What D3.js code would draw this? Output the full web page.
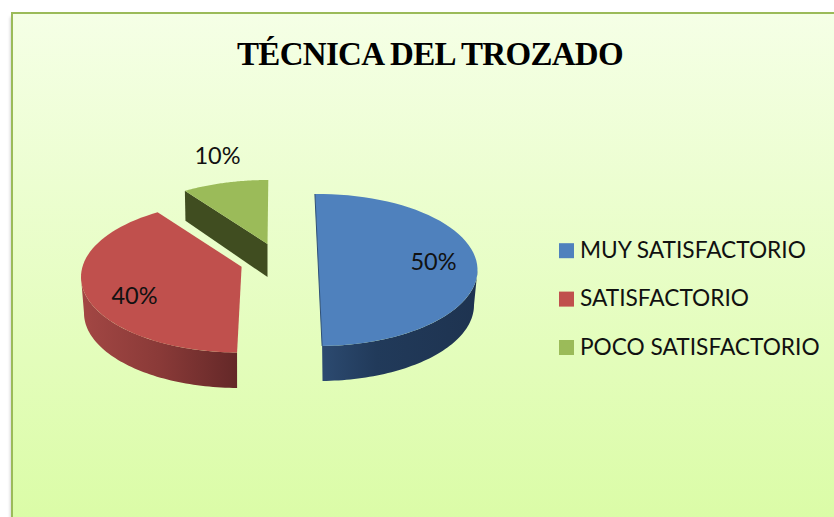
<!DOCTYPE html>
<html><head><meta charset="utf-8">
<script src="https://cdn.jsdelivr.net/npm/d3@7"></script>
<style>html,body{margin:0;padding:0;background:#fff}svg{display:block}</style>
</head><body><svg id="c" width="834" height="517"></svg>
<script>
const categories=["MUY SATISFACTORIO","SATISFACTORIO","POCO SATISFACTORIO"];
const values=[50,40,10];
const labels=["50%","40%","10%"];
const colors=["#4f81bd","#c0504d","#9bbb59"];
const titleText="TÉCNICA DEL TROZADO";
const deg=Math.PI/180;
const svg=d3.select("#c");
const defs=svg.append("defs");
const bg=defs.append("linearGradient").attr("id","bg").attr("x1",0).attr("y1",0).attr("x2",0).attr("y2",1);
bg.append("stop").attr("offset",0).attr("stop-color","#f5ffe6");
bg.append("stop").attr("offset",1).attr("stop-color","#dafca5");
defs.append("filter").attr("id","blur").attr("x","-5%").attr("y","-5%").attr("width","110%").attr("height","110%")
  .append("feGaussianBlur").attr("stdDeviation",1.6);
svg.append("rect").attr("x",10).attr("y",17).attr("width",840).attr("height",520).attr("fill","#999").attr("opacity",.4).attr("filter","url(#blur)");
svg.append("rect").attr("x",12).attr("y",13).attr("width",840).attr("height",520)
 .attr("fill","url(#bg)").attr("stroke","#9bbb59").attr("stroke-width",2);
svg.append("text").attr("x",430).attr("y",65).attr("text-anchor","middle")
 .attr("font-family","Liberation Serif").attr("font-weight","bold").attr("font-size",33).attr("letter-spacing",-0.7).text(titleText);

const arcs=d3.pie().sort(null).value(d=>d).startAngle(-1.3*deg).endAngle(358.7*deg)(values);
// perspective geometry of each exploded slice
const geom=[
 {c:[318.5,270],rx:159,ry:76,b:[319,305],brx:155,bry:76,apex:[318.5,270],shift:[0,0]},
 {c:[239,277],rx:158,ry:75.5,b:[239,313],brx:155,bry:75,apex:[241.6,266.7],shift:[2*deg,6.3*deg]},
 {c:[268.3,256],rx:162,ry:76,b:[268,286],brx:160,bry:76,apex:[267.5,244],shift:[6.3*deg,1.3*deg]}
];
const grads=[
 [["#2c4a70",0],["#213a5a",.35],["#1e3350",1]],
 [["#a34744",0],["#8a3a38",.5],["#642828",1]],
 [["#404d20",0],["#404d20",1]]
];
const pt=(g,a)=>[g.c[0]+Math.sin(a)*g.rx,g.c[1]-Math.cos(a)*g.ry];
const ptB=(g,a)=>[g.b[0]+Math.sin(a)*g.brx,g.b[1]-Math.cos(a)*g.bry];
const line=d3.line();
const ramp=(a0,a1)=>d3.range(61).map(k=>a0+(a1-a0)*k/60);
const sliceOrder=[2,0,1];
sliceOrder.forEach(i=>{
  const d=arcs[i],g=geom[i],s=svg.append("g");
  const a0=d.startAngle+g.shift[0],a1=d.endAngle+g.shift[1];
  const id="wall"+i;
  const lg=defs.append("linearGradient").attr("id",id).attr("gradientUnits","userSpaceOnUse");
  const w0=Math.max(a0,90*deg),w1=Math.min(a1,270*deg);
  if(w1>w0){
    const xs=[pt(g,w0)[0],pt(g,w1)[0]];
    lg.attr("x1",d3.min(xs)).attr("x2",d3.max(xs)).attr("y1",0).attr("y2",0);
    grads[i].forEach(st=>lg.append("stop").attr("offset",st[1]).attr("stop-color",st[0]));
    const top=ramp(w0,w1).map(a=>pt(g,a)),bot=ramp(w1,w0).map(a=>ptB(g,a));
    s.append("path").attr("d",line(top.concat(bot))+"Z").attr("fill","url(#"+id+")");
  }
  if(i===2){
    const p=pt(g,a0);
    s.append("path").attr("d",line([p,g.apex,[g.apex[0],g.apex[1]+33],[p[0]+.6,p[1]+30]])+"Z").attr("fill","#404d20");
  }
  s.append("path").attr("d",line([g.apex].concat(ramp(a0,a1).map(a=>pt(g,a))))+"Z").attr("fill",colors[i]);
  if(i===0){
    const p=pt(g,a0),q=pt(g,a1);
    s.append("path").attr("d",line([p,q])).attr("stroke","#2f5077").attr("stroke-width",1).attr("fill","none");
  }
});
const labelPos=[[433.5,270],[134.5,304],[217.5,164]];
labels.forEach((t,i)=>svg.append("text").attr("x",labelPos[i][0]).attr("y",labelPos[i][1]).attr("text-anchor","middle")
  .attr("font-family","Lato").attr("font-size",23.5).attr("fill","#111").text(t));
const legY=d3.scalePoint().domain(categories).range([250.7,347.5]);
categories.forEach((c,i)=>{
  svg.append("rect").attr("x",559).attr("y",legY(c)-7.5).attr("width",15).attr("height",15).attr("fill",colors[i]);
  svg.append("text").attr("x",580).attr("y",legY(c)+7.3).attr("font-family","Lato").attr("font-size",22.7).attr("fill","#111").text(c);
});
</script></body></html>
